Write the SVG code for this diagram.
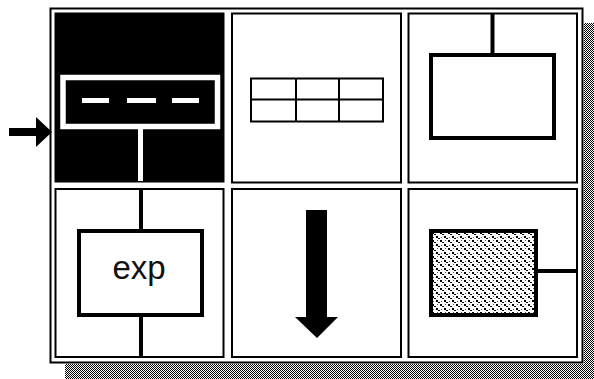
<svg xmlns="http://www.w3.org/2000/svg" width="594" height="379" viewBox="0 0 594 379">
  <defs>
    <pattern id="checker" width="2" height="2" patternUnits="userSpaceOnUse">
      <rect width="2" height="2" fill="#fff"/>
      <rect x="0" y="0" width="1" height="1" fill="#000"/>
      <rect x="1" y="1" width="1" height="1" fill="#000"/>
    </pattern>
    <pattern id="weave" width="8" height="8" patternUnits="userSpaceOnUse">
      <rect width="8" height="8" fill="#fff"/>
      <rect x="0" y="0" width="2" height="2" fill="#000"/>
      <rect x="2" y="2" width="2" height="1" fill="#000"/>
      <rect x="4" y="4" width="2" height="2" fill="#000"/>
      <rect x="6" y="6" width="2" height="1" fill="#000"/>
      <rect x="5" y="0" width="1" height="1" fill="#555"/>
      <rect x="1" y="5" width="1" height="1" fill="#555"/>
    </pattern>
  </defs>
  <style>
    .cell { fill: #fff; stroke: #000; stroke-width: 2; }
    .thick { fill: #fff; stroke: #000; stroke-width: 4; }
    .line { stroke: #000; stroke-width: 4; fill: none; }
    .thin { stroke: #000; stroke-width: 2; fill: none; }
    .lbl { font-family: "Liberation Sans", Arial, sans-serif; font-size: 33px; fill: #111; }
  </style>
  <rect width="594" height="379" fill="#fff"/>
  <g id="shadow">
    <rect x="584" y="23" width="10" height="356" fill="url(#checker)"/>
    <rect x="65" y="364" width="529" height="15" fill="url(#checker)"/>
  </g>
  <g id="frame">
    <rect x="50.5" y="8.5" width="532" height="354" fill="#fff" stroke="#000" stroke-width="2"/>
  </g>
  <g id="cell-sequence">
    <rect x="55.5" y="13.5" width="168" height="168" fill="#000" stroke="#000" stroke-width="2"/>
    <rect x="63" y="77.5" width="154.5" height="49" fill="#000" stroke="#fff" stroke-width="5.5"/>
    <rect x="82" y="98" width="27" height="5" fill="#fff"/>
    <rect x="127" y="98" width="29" height="5" fill="#fff"/>
    <rect x="172" y="98" width="27" height="5" fill="#fff"/>
    <rect x="138" y="129" width="5" height="52" fill="#fff"/>
  </g>
  <g id="cell-table">
    <rect class="cell" x="232" y="13.5" width="169" height="169"/>
    <rect class="thin" x="251" y="78.5" width="132" height="43"/>
    <line class="thin" x1="251" y1="99.5" x2="383" y2="99.5"/>
    <line class="thin" x1="296" y1="78.5" x2="296" y2="121.5"/>
    <line class="thin" x1="339" y1="78.5" x2="339" y2="121.5"/>
  </g>
  <g id="cell-box-top">
    <rect class="cell" x="408.5" y="13.5" width="168.5" height="169"/>
    <line class="line" x1="492.5" y1="14" x2="492.5" y2="55"/>
    <rect class="thick" x="431" y="55" width="123" height="83"/>
  </g>
  <g id="cell-exp">
    <rect class="cell" x="55.5" y="189" width="168" height="168"/>
    <line class="line" x1="141" y1="189" x2="141" y2="231"/>
    <line class="line" x1="141" y1="315" x2="141" y2="357"/>
    <rect class="thick" x="79" y="231" width="123" height="84"/>
    <text class="lbl" x="139" y="279" text-anchor="middle">exp</text>
  </g>
  <g id="cell-down-arrow">
    <rect class="cell" x="232" y="189" width="169" height="168"/>
    <polygon points="306,210 327,210 327,317 338,317 317,338 295,317 306,317" fill="#000"/>
  </g>
  <g id="cell-pattern-box">
    <rect class="cell" x="408.5" y="189" width="168.5" height="168"/>
    <line class="line" x1="536" y1="271" x2="577" y2="271"/>
    <rect x="431" y="231" width="105" height="84" fill="url(#weave)" stroke="#000" stroke-width="4"/>
  </g>
  <g id="connectors">
    <polygon points="9,128 36,128 36,117 52,132 36,147 36,136 9,136" fill="#000"/>
  </g>
</svg>
